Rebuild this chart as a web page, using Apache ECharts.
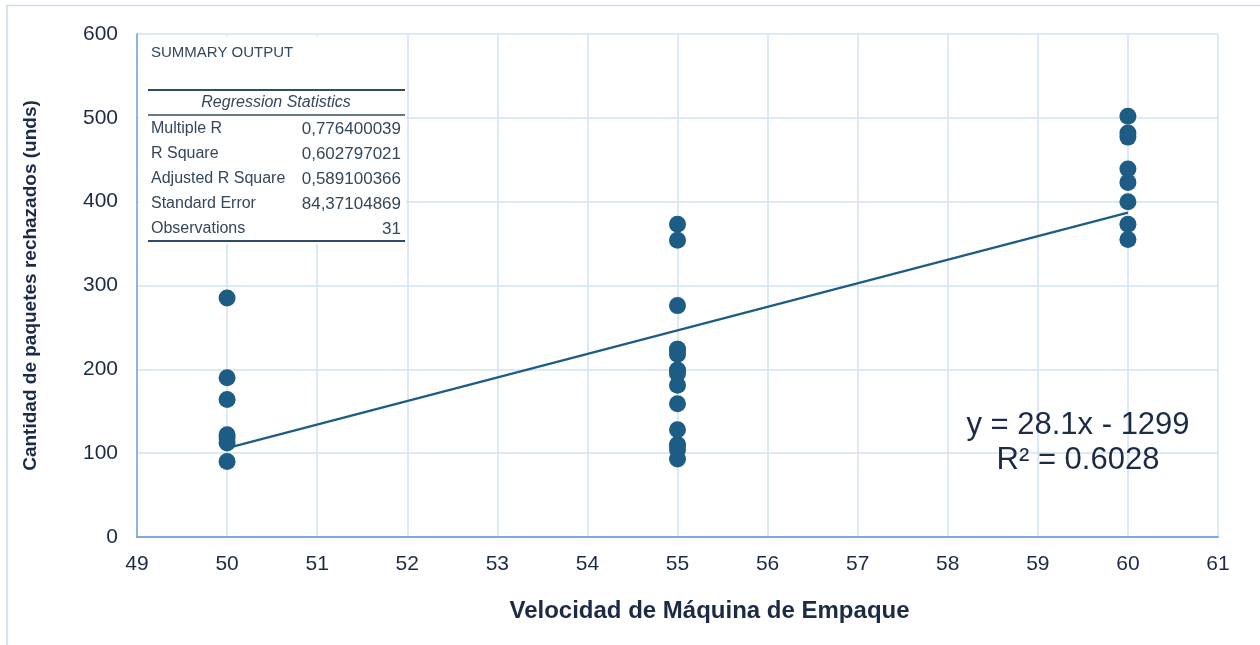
<!DOCTYPE html>
<html>
<head>
<meta charset="utf-8">
<script src="https://cdn.jsdelivr.net/npm/echarts@6/dist/echarts.min.js"></script>
<style>
  html, body { margin: 0; padding: 0; background: #ffffff; }
  #chart { width: 1260px; height: 645px; }
</style>
</head>
<body>
<div id="chart"></div>
<script>
// Machine speed groups and rejected packages observed at each speed
const speeds = [50, 55, 60];
const rejected50 = [285, 190, 164, 122, 118, 112, 90];
const rejected55 = [373, 354, 276, 224, 224, 218, 199, 199, 195, 181, 159, 128, 110, 110, 104, 93];
const rejected60 = [502, 482, 477, 439, 423, 400, 373, 355];

// Linear trend as stated by the equation label
const trendSlope = 28.1;
const trendIntercept = -1299;
const trendLabel = ['y = 28.1x - 1299', 'R\u00b2 = 0.6028'];

// Regression summary block
const summaryTitle = 'SUMMARY OUTPUT';
const summaryHeader = 'Regression Statistics';
const statLabels = ['Multiple R', 'R Square', 'Adjusted R Square', 'Standard Error', 'Observations'];
const statValues = ['0,776400039', '0,602797021', '0,589100366', '84,37104869', '31'];

// Axis settings
const xTicks = { min: 49, max: 61, interval: 1 };
const yTicks = { min: 0, max: 600, interval: 100 };
const xTitle = 'Velocidad de Máquina de Empaque';
const yTitle = 'Cantidad de paquetes rechazados (unds)';

const points = [];
[rejected50, rejected55, rejected60].forEach((vals, i) => {
  vals.forEach(v => points.push([speeds[i], v]));
});
const xFirst = speeds[0], xLast = speeds[speeds.length - 1];
const trendData = [
  [xFirst, trendSlope * xFirst + trendIntercept],
  [xLast, trendSlope * xLast + trendIntercept]
];

const dark = '#1c2b45';
const markColor = '#1d5d85';
const tableText = '#34475b';
const tableRule = '#2f4d66';
const FONT = '"Liberation Sans", Arial, sans-serif';

const chart = echarts.init(document.getElementById('chart'), null, { renderer: 'canvas' });

// Summary table drawn as graphic elements on a white panel, above the grid lines
const TZ = 100;
const tableEls = [
  { type: 'rect', z: TZ, shape: { x: 139, y: 36, width: 267, height: 208 }, style: { fill: '#ffffff' } },
  { type: 'text', z: TZ + 1, x: 151, y: 53, style: { text: summaryTitle, font: '15px ' + FONT, fill: tableText, verticalAlign: 'middle' } },
  { type: 'line', z: TZ + 1, shape: { x1: 148, y1: 90, x2: 405, y2: 90 }, style: { stroke: tableRule, lineWidth: 2 } },
  { type: 'text', z: TZ + 1, x: 276, y: 103, style: { text: summaryHeader, font: 'italic 16px ' + FONT, fill: tableText, align: 'center', verticalAlign: 'middle' } },
  { type: 'line', z: TZ + 1, shape: { x1: 148, y1: 115, x2: 405, y2: 115 }, style: { stroke: tableRule, lineWidth: 1.5 } },
  { type: 'line', z: TZ + 1, shape: { x1: 148, y1: 241, x2: 405, y2: 241 }, style: { stroke: tableRule, lineWidth: 2 } }
];
statLabels.forEach((lab, i) => {
  const y = 129 + i * 25;
  tableEls.push({ type: 'text', z: TZ + 1, x: 151, y: y, style: { text: lab, font: '16px ' + FONT, fill: tableText, verticalAlign: 'middle' } });
  tableEls.push({ type: 'text', z: TZ + 1, x: 401, y: y, style: { text: statValues[i], font: '17px ' + FONT, fill: tableText, align: 'right', verticalAlign: 'middle' } });
});

const option = {
  backgroundColor: '#ffffff',
  animation: false,
  grid: { left: 137, right: 42, top: 34, bottom: 108, containLabel: false },
  xAxis: {
    type: 'value',
    min: xTicks.min, max: xTicks.max, interval: xTicks.interval,
    name: xTitle,
    nameLocation: 'middle',
    nameGap: 62,
    nameTextStyle: { fontFamily: FONT, fontSize: 24, fontWeight: 'bold', color: dark, padding: [0, 0, 0, 64] },
    axisLine: { show: true, lineStyle: { color: '#7eaade', width: 2 } },
    axisTick: { show: false },
    axisLabel: { fontFamily: FONT, fontSize: 21, color: dark, margin: 17 },
    splitLine: { show: true, lineStyle: { color: '#d3e2f4', width: 1.5 } }
  },
  yAxis: {
    type: 'value',
    min: yTicks.min, max: yTicks.max, interval: yTicks.interval,
    name: yTitle,
    nameLocation: 'middle',
    nameGap: 97,
    nameTextStyle: { fontFamily: FONT, fontSize: 19, fontWeight: 'bold', color: dark },
    axisLine: { show: true, lineStyle: { color: '#8db5e3', width: 2 } },
    axisTick: { show: false },
    axisLabel: { fontFamily: FONT, fontSize: 21, color: dark, margin: 19 },
    splitLine: { show: true, lineStyle: { color: '#d3e2f4', width: 1.5 } }
  },
  series: [
    {
      type: 'line',
      data: trendData,
      symbol: 'none',
      lineStyle: { color: markColor, width: 2.2 },
      z: 3
    },
    {
      type: 'scatter',
      data: points,
      symbol: 'circle',
      symbolSize: 17,
      itemStyle: { color: markColor, opacity: 1 },
      z: 4
    }
  ],
  graphic: [
    // outer frame
    { type: 'polyline', z: 1, shape: { points: [[7, 645], [7, 5.5], [1260, 5.5]] }, style: { stroke: '#c9dcf1', lineWidth: 1.5, fill: null } },
    ...tableEls,
    { type: 'text', x: 1078, y: 425, z: TZ, style: { text: trendLabel[0], font: '31px ' + FONT, fill: dark, align: 'center', verticalAlign: 'middle' } },
    { type: 'text', x: 1078, y: 460, z: TZ, style: { text: trendLabel[1], font: '31px ' + FONT, fill: dark, align: 'center', verticalAlign: 'middle' } }
  ]
};

chart.setOption(option);
</script>
</body>
</html>
